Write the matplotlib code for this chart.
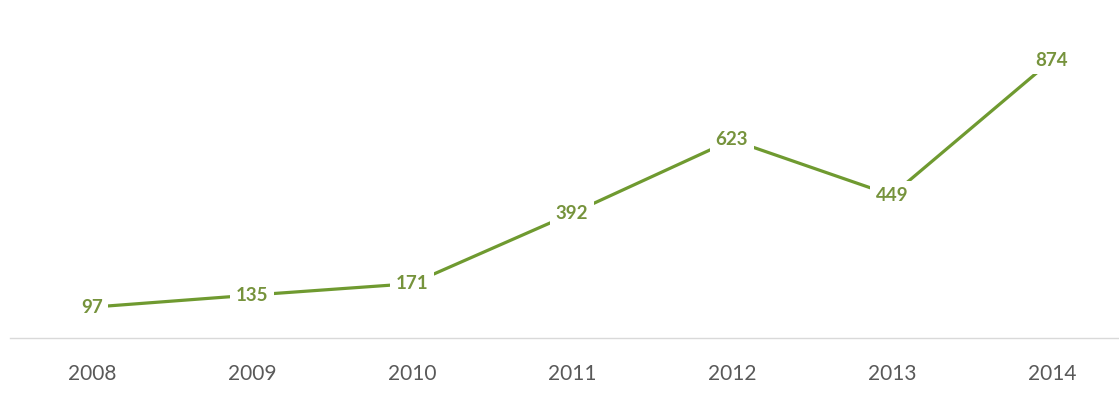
import matplotlib.pyplot as plt

# data
years = ["2008", "2009", "2010", "2011", "2012", "2013", "2014"]
counts = [97, 135, 171, 392, 623, 449, 874]

plt.rcParams['font.family'] = ['Lato', 'DejaVu Sans']

fig = plt.figure(figsize=(11.19, 4.03), dpi=100)
ax = fig.add_axes([10 / 1119, 65 / 403, 1109 / 1119, 338 / 403])

xs = list(range(len(years)))
ax.plot(xs, counts, color="#6f9a30", lw=2.3, solid_capstyle="butt", zorder=2)

for x, v in zip(xs, counts):
    ax.text(x, v, str(v), ha="center", va="center", fontsize=13.5,
            fontweight="bold", color="#76933c", zorder=3,
            bbox=dict(boxstyle="square,pad=0.3", fc="white", ec="none"))

ax.set_xlim(-0.5125, 6.42)
ax.set_ylim(0, 1063)
ax.set_xticks(xs)
ax.set_xticklabels(years, fontsize=15, color="#595959")
ax.tick_params(axis="x", length=0, pad=19)
ax.set_yticks([])
for s in ["top", "left", "right"]:
    ax.spines[s].set_visible(False)
ax.spines["bottom"].set_color("#d9d9d9")
ax.spines["bottom"].set_linewidth(1)

fig.savefig("out.png", dpi=100)
